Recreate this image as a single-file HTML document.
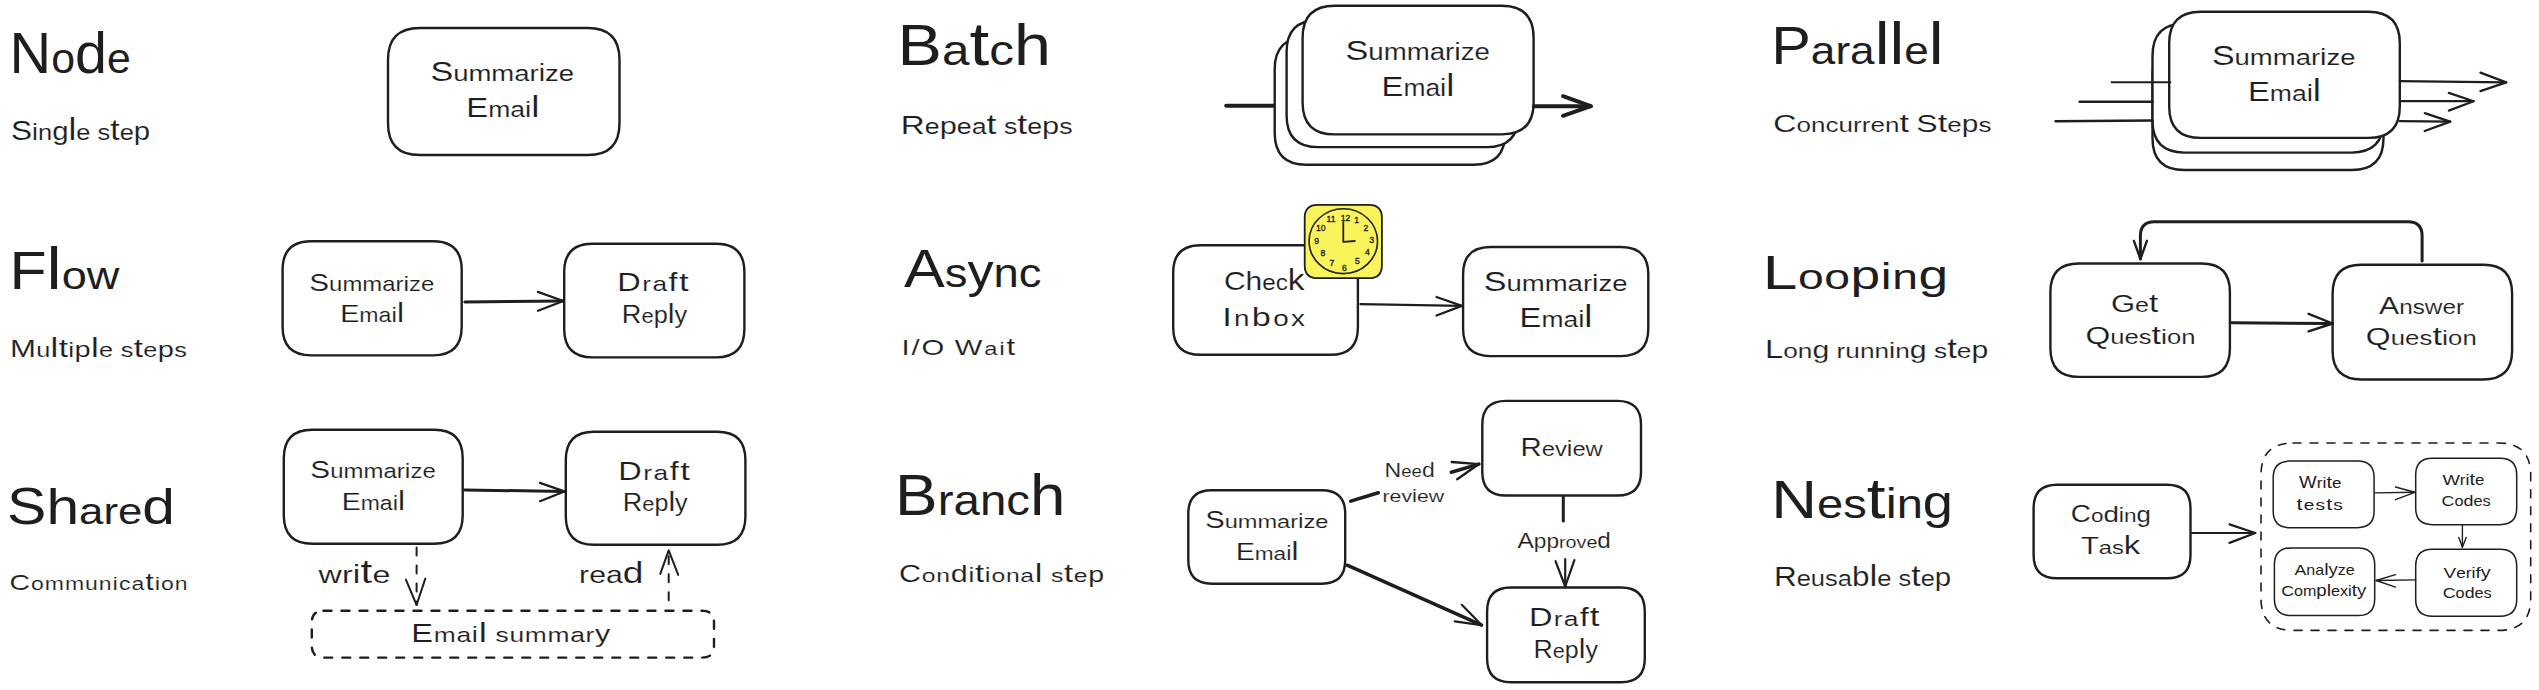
<!DOCTYPE html>
<html><head><meta charset="utf-8"><title>Workflow patterns</title>
<style>
html,body{margin:0;padding:0;background:#fff;}
body{width:2539px;height:690px;overflow:hidden;}
svg{display:block;}
text{font-family:"Liberation Sans",sans-serif;fill:#1e1e1e;}
</style></head><body>
<svg width="2539" height="690" viewBox="0 0 2539 690" stroke-linejoin="round" stroke-linecap="round">
<rect width="2539" height="690" fill="#fff"/>
<text transform="translate(9.6 73.0) scale(1.017 1)" textLength="119.2" lengthAdjust="spacing"><tspan font-size="56.7">N</tspan><tspan font-size="42.1">o</tspan><tspan font-size="56.5">d</tspan><tspan font-size="42.1">e</tspan></text>
<text transform="translate(11.1 139.6) scale(1.142 1)" textLength="121.8" lengthAdjust="spacing" stroke="#fff" stroke-width="0.13" stroke-linejoin="round"><tspan font-size="27.6">S</tspan><tspan font-size="23.4">i</tspan><tspan font-size="22.3">n</tspan><tspan font-size="25.7">g</tspan><tspan font-size="30.9">l</tspan><tspan font-size="22.3">e s</tspan><tspan font-size="29.5">t</tspan><tspan font-size="22.3">e</tspan><tspan font-size="25.7">p</tspan></text>
<path d="M419.8 28.0L587.8 28.0Q619.5 28.0 619.5 59.8L619.5 123.2Q619.5 155.0 587.8 155.0L419.8 155.0Q388.0 155.0 388.0 123.2L388.0 59.8Q388.0 28.0 419.8 28.0Z" fill="#fff" stroke="#1e1e1e" stroke-width="2.4"/>
<text transform="translate(430.5 80.9) scale(1.213 1)" textLength="118.4" lengthAdjust="spacing" stroke="#fff" stroke-width="0.12" stroke-linejoin="round"><tspan font-size="28.1">S</tspan><tspan font-size="22.7">ummar</tspan><tspan font-size="23.8">i</tspan><tspan font-size="22.7">ze</tspan></text>
<text transform="translate(466.3 116.9) scale(1.216 1)" textLength="60.2" lengthAdjust="spacing" stroke="#fff" stroke-width="0.12" stroke-linejoin="round"><tspan font-size="27.0">E</tspan><tspan font-size="21.8">ma</tspan><tspan font-size="22.9">i</tspan><tspan font-size="30.3">l</tspan></text>
<text transform="translate(9.4 289.0) scale(1.149 1)" textLength="95.7" lengthAdjust="spacing"><tspan font-size="52.9">F</tspan><tspan font-size="59.2">l</tspan><tspan font-size="39.3">ow</tspan></text>
<text transform="translate(9.9 357.0) scale(1.300 1)" textLength="136.1" lengthAdjust="spacing" stroke="#fff" stroke-width="0.12" stroke-linejoin="round"><tspan font-size="24.0">M</tspan><tspan font-size="19.4">u</tspan><tspan font-size="26.9">l</tspan><tspan font-size="25.6">t</tspan><tspan font-size="20.3">i</tspan><tspan font-size="22.3">p</tspan><tspan font-size="26.9">l</tspan><tspan font-size="19.4">e s</tspan><tspan font-size="25.6">t</tspan><tspan font-size="19.4">e</tspan><tspan font-size="22.3">p</tspan><tspan font-size="19.4">s</tspan></text>
<path d="M311.2 241.2L433.1 241.2Q461.7 241.2 461.7 269.8L461.7 326.8Q461.7 355.4 433.1 355.4L311.2 355.4Q282.6 355.4 282.6 326.8L282.6 269.8Q282.6 241.2 311.2 241.2Z" fill="#fff" stroke="#1e1e1e" stroke-width="2.4"/>
<text transform="translate(309.3 290.5) scale(1.206 1)" textLength="103.7" lengthAdjust="spacing" stroke="#fff" stroke-width="0.12" stroke-linejoin="round"><tspan font-size="24.6">S</tspan><tspan font-size="19.8">ummar</tspan><tspan font-size="20.8">i</tspan><tspan font-size="19.8">ze</tspan></text>
<text transform="translate(340.2 322.3) scale(1.167 1)" textLength="54.7" lengthAdjust="spacing" stroke="#fff" stroke-width="0.13" stroke-linejoin="round"><tspan font-size="24.6">E</tspan><tspan font-size="19.8">ma</tspan><tspan font-size="20.8">i</tspan><tspan font-size="27.5">l</tspan></text>
<path d="M592.6 243.8L716.0 243.8Q744.4 243.8 744.4 272.2L744.4 329.0Q744.4 357.4 716.0 357.4L592.6 357.4Q564.2 357.4 564.2 329.0L564.2 272.2Q564.2 243.8 592.6 243.8Z" fill="#fff" stroke="#1e1e1e" stroke-width="2.4"/>
<text transform="translate(617.3 291.3) scale(1.300 1)" textLength="54.9" lengthAdjust="spacing" stroke="#fff" stroke-width="0.12" stroke-linejoin="round"><tspan font-size="25.0">D</tspan><tspan font-size="20.2">ra</tspan><tspan font-size="24.9">f</tspan><tspan font-size="26.7">t</tspan></text>
<text transform="translate(621.8 323.3) scale(1.088 1)" textLength="60.0" lengthAdjust="spacing" stroke="#fff" stroke-width="0.14" stroke-linejoin="round"><tspan font-size="25.0">R</tspan><tspan font-size="20.2">e</tspan><tspan font-size="23.2">p</tspan><tspan font-size="28.0">l</tspan><tspan font-size="23.2">y</tspan></text>
<path d="M464.8 302.0L563.4 301.0" fill="none" stroke="#1e1e1e" stroke-width="3.0"/>
<path d="M537.8 291.9L563.4 301.0L538.0 310.8" fill="none" stroke="#1e1e1e" stroke-width="2.2"/>
<text transform="translate(7.1 523.7) scale(1.159 1)" textLength="144.9" lengthAdjust="spacing"><tspan font-size="50.9">S</tspan><tspan font-size="50.7">h</tspan><tspan font-size="37.8">are</tspan><tspan font-size="50.7">d</tspan></text>
<text transform="translate(9.5 589.6) scale(1.300 1)" textLength="137.0" lengthAdjust="spacing" stroke="#fff" stroke-width="0.12" stroke-linejoin="round"><tspan font-size="21.9">C</tspan><tspan font-size="17.7">ommun</tspan><tspan font-size="18.6">i</tspan><tspan font-size="17.7">ca</tspan><tspan font-size="23.4">t</tspan><tspan font-size="18.6">i</tspan><tspan font-size="17.7">on</tspan></text>
<path d="M312.3 429.7L434.2 429.7Q462.7 429.7 462.7 458.2L462.7 515.3Q462.7 543.8 434.2 543.8L312.3 543.8Q283.8 543.8 283.8 515.3L283.8 458.2Q283.8 429.7 312.3 429.7Z" fill="#fff" stroke="#1e1e1e" stroke-width="2.4"/>
<text transform="translate(310.3 478.4) scale(1.210 1)" textLength="103.7" lengthAdjust="spacing" stroke="#fff" stroke-width="0.12" stroke-linejoin="round"><tspan font-size="24.6">S</tspan><tspan font-size="19.8">ummar</tspan><tspan font-size="20.8">i</tspan><tspan font-size="19.8">ze</tspan></text>
<text transform="translate(341.7 509.7) scale(1.159 1)" textLength="54.7" lengthAdjust="spacing" stroke="#fff" stroke-width="0.13" stroke-linejoin="round"><tspan font-size="24.6">E</tspan><tspan font-size="19.8">ma</tspan><tspan font-size="20.8">i</tspan><tspan font-size="27.5">l</tspan></text>
<path d="M594.0 431.8L717.1 431.8Q745.4 431.8 745.4 460.1L745.4 516.5Q745.4 544.8 717.1 544.8L594.0 544.8Q565.8 544.8 565.8 516.5L565.8 460.1Q565.8 431.8 594.0 431.8Z" fill="#fff" stroke="#1e1e1e" stroke-width="2.4"/>
<text transform="translate(618.3 479.9) scale(1.300 1)" textLength="55.0" lengthAdjust="spacing" stroke="#fff" stroke-width="0.12" stroke-linejoin="round"><tspan font-size="25.0">D</tspan><tspan font-size="20.2">ra</tspan><tspan font-size="24.9">f</tspan><tspan font-size="26.7">t</tspan></text>
<text transform="translate(622.8 510.9) scale(1.081 1)" textLength="60.0" lengthAdjust="spacing" stroke="#fff" stroke-width="0.14" stroke-linejoin="round"><tspan font-size="25.0">R</tspan><tspan font-size="20.2">e</tspan><tspan font-size="23.2">p</tspan><tspan font-size="28.0">l</tspan><tspan font-size="23.2">y</tspan></text>
<path d="M464.8 490.0L564.4 491.4" fill="none" stroke="#1e1e1e" stroke-width="3.0"/>
<path d="M539.9 482.9L564.4 491.4L540.0 501.2" fill="none" stroke="#1e1e1e" stroke-width="2.2"/>
<path d="M323.5 610.8L702.3 610.8Q714.0 610.8 714.0 622.5L714.0 645.9Q714.0 657.6 702.3 657.6L323.5 657.6Q311.8 657.6 311.8 645.9L311.8 622.5Q311.8 610.8 323.5 610.8Z" fill="none" stroke="#1e1e1e" stroke-width="2.4" stroke-dasharray="8 10" stroke-linecap="round"/>
<text transform="translate(411.3 642.1) scale(1.300 1)" textLength="153.1" lengthAdjust="spacing" stroke="#fff" stroke-width="0.12" stroke-linejoin="round"><tspan font-size="25.1">E</tspan><tspan font-size="20.3">ma</tspan><tspan font-size="21.3">i</tspan><tspan font-size="28.2">l</tspan><tspan font-size="20.3"> summar</tspan><tspan font-size="23.4">y</tspan></text>
<text transform="translate(318.6 583.3) scale(1.300 1)" textLength="55.2" lengthAdjust="spacing" stroke="#fff" stroke-width="0.12" stroke-linejoin="round"><tspan font-size="24.7">wr</tspan><tspan font-size="25.9">i</tspan><tspan font-size="32.6">t</tspan><tspan font-size="24.7">e</tspan></text>
<text transform="translate(579.1 583.0) scale(1.222 1)" textLength="52.6" lengthAdjust="spacing" stroke="#fff" stroke-width="0.12" stroke-linejoin="round"><tspan font-size="24.7">rea</tspan><tspan font-size="30.4">d</tspan></text>
<g stroke-linecap="round">
<path d="M416.6 547.5L416.6 605.0" fill="none" stroke="#1e1e1e" stroke-width="2" stroke-dasharray="8 10"/>
<path d="M405.9 579.6L416.6 605.0L425.3 578.6" fill="none" stroke="#1e1e1e" stroke-width="2"/>
<path d="M668.7 600.3L668.7 550.4" fill="none" stroke="#1e1e1e" stroke-width="2" stroke-dasharray="8 10"/>
<path d="M660.3 573.9L668.7 550.4L678.2 574.9" fill="none" stroke="#1e1e1e" stroke-width="2"/>
</g>
<text transform="translate(897.5 65.2) scale(1.169 1)" textLength="131.2" lengthAdjust="spacing"><tspan font-size="57.0">B</tspan><tspan font-size="42.3">a</tspan><tspan font-size="60.8">t</tspan><tspan font-size="42.3">c</tspan><tspan font-size="56.8">h</tspan></text>
<text transform="translate(900.8 134.3) scale(1.248 1)" textLength="137.7" lengthAdjust="spacing" stroke="#fff" stroke-width="0.12" stroke-linejoin="round"><tspan font-size="26.6">R</tspan><tspan font-size="21.5">e</tspan><tspan font-size="24.7">p</tspan><tspan font-size="21.5">ea</tspan><tspan font-size="28.4">t</tspan><tspan font-size="21.5"> s</tspan><tspan font-size="28.4">t</tspan><tspan font-size="21.5">e</tspan><tspan font-size="24.7">p</tspan><tspan font-size="21.5">s</tspan></text>
<path d="M1226.2 105.7L1276.0 105.7" fill="none" stroke="#1e1e1e" stroke-width="4"/>
<path d="M1306.5 37.4L1473.4 37.4Q1505.2 37.4 1505.2 69.2L1505.2 132.9Q1505.2 164.7 1473.4 164.7L1306.5 164.7Q1274.7 164.7 1274.7 132.9L1274.7 69.2Q1274.7 37.4 1306.5 37.4Z" fill="#fff" stroke="#1e1e1e" stroke-width="2.4"/>
<path d="M1318.3 20.3L1486.6 20.3Q1518.3 20.3 1518.3 52.0L1518.3 115.4Q1518.3 147.1 1486.6 147.1L1318.3 147.1Q1286.6 147.1 1286.6 115.4L1286.6 52.0Q1286.6 20.3 1318.3 20.3Z" fill="#fff" stroke="#1e1e1e" stroke-width="2.4"/>
<path d="M1334.6 5.7L1501.6 5.7Q1533.6 5.7 1533.6 37.7L1533.6 102.4Q1533.6 134.4 1501.6 134.4L1334.6 134.4Q1302.6 134.4 1302.6 102.4L1302.6 37.7Q1302.6 5.7 1334.6 5.7Z" fill="#fff" stroke="#1e1e1e" stroke-width="2.4"/>
<text transform="translate(1345.5 60.0) scale(1.201 1)" textLength="120.3" lengthAdjust="spacing" stroke="#fff" stroke-width="0.12" stroke-linejoin="round"><tspan font-size="28.5">S</tspan><tspan font-size="23.0">ummar</tspan><tspan font-size="24.2">i</tspan><tspan font-size="23.0">ze</tspan></text>
<text transform="translate(1381.6 96.0) scale(1.149 1)" textLength="63.4" lengthAdjust="spacing" stroke="#fff" stroke-width="0.13" stroke-linejoin="round"><tspan font-size="28.5">E</tspan><tspan font-size="23.0">ma</tspan><tspan font-size="24.2">i</tspan><tspan font-size="31.9">l</tspan></text>
<path d="M1534.0 106.2L1590.8 106.2" fill="none" stroke="#1e1e1e" stroke-width="4"/>
<path d="M1563.0 96.2L1590.8 106.2L1563.0 115.8" fill="none" stroke="#1e1e1e" stroke-width="4"/>
<text transform="translate(904.1 287.2) scale(1.121 1)" textLength="122.6" lengthAdjust="spacing"><tspan font-size="54.5">A</tspan><tspan font-size="40.5">s</tspan><tspan font-size="46.6">y</tspan><tspan font-size="40.5">nc</tspan></text>
<text transform="translate(901.6 354.9) scale(1.300 1)" textLength="87.4" lengthAdjust="spacing" stroke="#fff" stroke-width="0.12" stroke-linejoin="round"><tspan font-size="22.5">I/O</tspan><tspan font-size="18.2"> </tspan><tspan font-size="22.5">W</tspan><tspan font-size="18.2">a</tspan><tspan font-size="19.1">i</tspan><tspan font-size="24.0">t</tspan></text>
<path d="M1200.6 245.2L1330.5 245.2Q1357.9 245.2 1357.9 272.6L1357.9 327.4Q1357.9 354.8 1330.5 354.8L1200.6 354.8Q1173.2 354.8 1173.2 327.4L1173.2 272.6Q1173.2 245.2 1200.6 245.2Z" fill="#fff" stroke="#1e1e1e" stroke-width="2.4"/>
<text transform="translate(1223.9 290.1) scale(1.134 1)" textLength="71.1" lengthAdjust="spacing" stroke="#fff" stroke-width="0.13" stroke-linejoin="round"><tspan font-size="26.5">C</tspan><tspan font-size="26.4">h</tspan><tspan font-size="21.4">ec</tspan><tspan font-size="29.6">k</tspan></text>
<text transform="translate(1222.2 326.4) scale(1.300 1)" textLength="63.6" lengthAdjust="spacing" stroke="#fff" stroke-width="0.12" stroke-linejoin="round"><tspan font-size="26.5">I</tspan><tspan font-size="21.4">n</tspan><tspan font-size="26.4">b</tspan><tspan font-size="21.4">ox</tspan></text>
<path d="M1490.4 247.0L1621.0 247.0Q1648.3 247.0 1648.3 274.3L1648.3 328.8Q1648.3 356.1 1621.0 356.1L1490.4 356.1Q1463.1 356.1 1463.1 328.8L1463.1 274.3Q1463.1 247.0 1490.4 247.0Z" fill="#fff" stroke="#1e1e1e" stroke-width="2.4"/>
<text transform="translate(1483.7 291.4) scale(1.234 1)" textLength="116.6" lengthAdjust="spacing" stroke="#fff" stroke-width="0.12" stroke-linejoin="round"><tspan font-size="27.6">S</tspan><tspan font-size="22.3">ummar</tspan><tspan font-size="23.4">i</tspan><tspan font-size="22.3">ze</tspan></text>
<text transform="translate(1519.6 326.9) scale(1.185 1)" textLength="61.5" lengthAdjust="spacing" stroke="#fff" stroke-width="0.13" stroke-linejoin="round"><tspan font-size="27.6">E</tspan><tspan font-size="22.3">ma</tspan><tspan font-size="23.4">i</tspan><tspan font-size="30.9">l</tspan></text>
<path d="M1360.4 304.1L1461.9 305.9" fill="none" stroke="#1e1e1e" stroke-width="2.2"/>
<path d="M1436.5 297.0L1461.9 305.9L1436.5 315.5" fill="none" stroke="#1e1e1e" stroke-width="2.2"/>
<path d="M1317.7 204.9L1368.9 204.9Q1381.9 204.9 1381.9 217.9L1381.9 265.2Q1381.9 278.2 1368.9 278.2L1317.7 278.2Q1304.7 278.2 1304.7 265.2L1304.7 217.9Q1304.7 204.9 1317.7 204.9Z" fill="#faf45c" stroke="#1e1e1e" stroke-width="1.8"/>
<ellipse cx="1343.3" cy="241.2" rx="34.2" ry="32.4" fill="none" stroke="#1e1e1e" stroke-width="1.6"/>
<path d="M1343.3 222.2L1343.3 241.9L1354.8 241.0" fill="none" stroke="#1e1e1e" stroke-width="1.8"/>
<text x="1345.6" y="221.0" font-size="8.6" text-anchor="middle" stroke="#1e1e1e" stroke-width="0.35">12</text>
<text x="1356.6" y="222.8" font-size="8.6" text-anchor="middle" stroke="#1e1e1e" stroke-width="0.35">1</text>
<text x="1365.9" y="231.4" font-size="8.6" text-anchor="middle" stroke="#1e1e1e" stroke-width="0.35">2</text>
<text x="1371.7" y="243.1" font-size="8.6" text-anchor="middle" stroke="#1e1e1e" stroke-width="0.35">3</text>
<text x="1367.5" y="254.6" font-size="8.6" text-anchor="middle" stroke="#1e1e1e" stroke-width="0.35">4</text>
<text x="1357.3" y="264.1" font-size="8.6" text-anchor="middle" stroke="#1e1e1e" stroke-width="0.35">5</text>
<text x="1344.3" y="270.6" font-size="8.6" text-anchor="middle" stroke="#1e1e1e" stroke-width="0.35">6</text>
<text x="1331.8" y="266.1" font-size="8.6" text-anchor="middle" stroke="#1e1e1e" stroke-width="0.35">7</text>
<text x="1322.8" y="255.8" font-size="8.6" text-anchor="middle" stroke="#1e1e1e" stroke-width="0.35">8</text>
<text x="1316.6" y="243.5" font-size="8.6" text-anchor="middle" stroke="#1e1e1e" stroke-width="0.35">9</text>
<text x="1320.7" y="230.8" font-size="8.6" text-anchor="middle" stroke="#1e1e1e" stroke-width="0.35">10</text>
<text x="1331.0" y="222.1" font-size="8.6" text-anchor="middle" stroke="#1e1e1e" stroke-width="0.35">11</text>
<text transform="translate(895.1 514.5) scale(1.113 1)" textLength="153.1" lengthAdjust="spacing"><tspan font-size="57.4">B</tspan><tspan font-size="42.6">ranc</tspan><tspan font-size="57.2">h</tspan></text>
<text transform="translate(898.9 582.2) scale(1.300 1)" textLength="157.9" lengthAdjust="spacing" stroke="#fff" stroke-width="0.12" stroke-linejoin="round"><tspan font-size="23.5">C</tspan><tspan font-size="19.0">on</tspan><tspan font-size="23.5">d</tspan><tspan font-size="20.0">i</tspan><tspan font-size="25.1">t</tspan><tspan font-size="20.0">i</tspan><tspan font-size="19.0">ona</tspan><tspan font-size="26.4">l</tspan><tspan font-size="19.0"> s</tspan><tspan font-size="25.1">t</tspan><tspan font-size="19.0">e</tspan><tspan font-size="21.9">p</tspan></text>
<path d="M1211.7 490.2L1321.8 490.2Q1345.2 490.2 1345.2 513.6L1345.2 560.3Q1345.2 583.7 1321.8 583.7L1211.7 583.7Q1188.3 583.7 1188.3 560.3L1188.3 513.6Q1188.3 490.2 1211.7 490.2Z" fill="#fff" stroke="#1e1e1e" stroke-width="2.4"/>
<text transform="translate(1205.2 527.8) scale(1.255 1)" textLength="98.2" lengthAdjust="spacing" stroke="#fff" stroke-width="0.12" stroke-linejoin="round"><tspan font-size="23.3">S</tspan><tspan font-size="18.8">ummar</tspan><tspan font-size="19.7">i</tspan><tspan font-size="18.8">ze</tspan></text>
<text transform="translate(1236.0 559.8) scale(1.206 1)" textLength="51.8" lengthAdjust="spacing" stroke="#fff" stroke-width="0.12" stroke-linejoin="round"><tspan font-size="23.3">E</tspan><tspan font-size="18.8">ma</tspan><tspan font-size="19.7">i</tspan><tspan font-size="26.0">l</tspan></text>
<path d="M1506.0 400.9L1617.3 400.9Q1641.0 400.9 1641.0 424.5L1641.0 471.9Q1641.0 495.5 1617.3 495.5L1506.0 495.5Q1482.3 495.5 1482.3 471.9L1482.3 424.5Q1482.3 400.9 1506.0 400.9Z" fill="#fff" stroke="#1e1e1e" stroke-width="2.4"/>
<text transform="translate(1520.6 456.1) scale(1.143 1)" textLength="71.9" lengthAdjust="spacing" stroke="#fff" stroke-width="0.13" stroke-linejoin="round"><tspan font-size="25.7">R</tspan><tspan font-size="20.8">ev</tspan><tspan font-size="21.8">i</tspan><tspan font-size="20.8">ew</tspan></text>
<path d="M1510.8 587.5L1621.1 587.5Q1644.8 587.5 1644.8 611.2L1644.8 658.6Q1644.8 682.3 1621.1 682.3L1510.8 682.3Q1487.1 682.3 1487.1 658.6L1487.1 611.2Q1487.1 587.5 1510.8 587.5Z" fill="#fff" stroke="#1e1e1e" stroke-width="2.4"/>
<text transform="translate(1529.1 626.1) scale(1.300 1)" textLength="54.2" lengthAdjust="spacing" stroke="#fff" stroke-width="0.12" stroke-linejoin="round"><tspan font-size="25.1">D</tspan><tspan font-size="20.3">ra</tspan><tspan font-size="25.1">f</tspan><tspan font-size="26.8">t</tspan></text>
<text transform="translate(1533.6 657.5) scale(1.063 1)" textLength="60.4" lengthAdjust="spacing" stroke="#fff" stroke-width="0.14" stroke-linejoin="round"><tspan font-size="25.1">R</tspan><tspan font-size="20.3">e</tspan><tspan font-size="23.4">p</tspan><tspan font-size="28.2">l</tspan><tspan font-size="23.4">y</tspan></text>
<text transform="translate(1384.6 476.5) scale(1.094 1)" textLength="45.8" lengthAdjust="spacing" stroke="#fff" stroke-width="0.14" stroke-linejoin="round"><tspan font-size="21.1">N</tspan><tspan font-size="17.0">ee</tspan><tspan font-size="21.0">d</tspan></text>
<text transform="translate(1382.5 502.2) scale(1.247 1)" textLength="49.4" lengthAdjust="spacing" stroke="#fff" stroke-width="0.12" stroke-linejoin="round"><tspan font-size="17.0">rev</tspan><tspan font-size="17.9">i</tspan><tspan font-size="17.0">ew</tspan></text>
<text transform="translate(1517.6 547.7) scale(1.140 1)" textLength="81.8" lengthAdjust="spacing" stroke="#fff" stroke-width="0.13" stroke-linejoin="round"><tspan font-size="21.4">A</tspan><tspan font-size="19.9">pp</tspan><tspan font-size="17.3">rove</tspan><tspan font-size="21.3">d</tspan></text>
<path d="M1350.7 501.1L1378.3 492.8" fill="none" stroke="#1e1e1e" stroke-width="3.5"/>
<path d="M1451.3 472.2L1478.9 464.1" fill="none" stroke="#1e1e1e" stroke-width="3.5"/>
<path d="M1451.7 462.0L1478.9 464.1L1457.2 479.3" fill="none" stroke="#1e1e1e" stroke-width="2.4"/>
<path d="M1563.3 496.8L1563.3 520.9" fill="none" stroke="#1e1e1e" stroke-width="3"/>
<path d="M1565.2 559.0L1565.2 586.5" fill="none" stroke="#1e1e1e" stroke-width="2.2"/>
<path d="M1555.5 561.2L1565.2 586.5L1574.4 560.1" fill="none" stroke="#1e1e1e" stroke-width="2.2"/>
<path d="M1347.1 565.2L1481.6 625.1" fill="none" stroke="#1e1e1e" stroke-width="3.5"/>
<path d="M1461.8 604.8L1481.6 625.1L1454.7 621.4" fill="none" stroke="#1e1e1e" stroke-width="2.2"/>
<text transform="translate(1771.2 63.9) scale(1.120 1)" textLength="153.9" lengthAdjust="spacing"><tspan font-size="53.1">P</tspan><tspan font-size="39.4">ara</tspan><tspan font-size="59.4">ll</tspan><tspan font-size="39.4">e</tspan><tspan font-size="59.4">l</tspan></text>
<text transform="translate(1773.2 131.8) scale(1.300 1)" textLength="167.9" lengthAdjust="spacing" stroke="#fff" stroke-width="0.12" stroke-linejoin="round"><tspan font-size="24.7">C</tspan><tspan font-size="20.0">oncurren</tspan><tspan font-size="26.4">t</tspan><tspan font-size="20.0"> </tspan><tspan font-size="24.7">S</tspan><tspan font-size="26.4">t</tspan><tspan font-size="20.0">e</tspan><tspan font-size="23.0">p</tspan><tspan font-size="20.0">s</tspan></text>
<path d="M2184.2 43.0L2351.8 43.0Q2383.5 43.0 2383.5 74.8L2383.5 138.2Q2383.5 170.0 2351.8 170.0L2184.2 170.0Q2152.5 170.0 2152.5 138.2L2152.5 74.8Q2152.5 43.0 2184.2 43.0Z" fill="#fff" stroke="#1e1e1e" stroke-width="2.4"/>
<path d="M2184.5 23.6L2351.5 23.6Q2383.5 23.6 2383.5 55.6L2383.5 120.6Q2383.5 152.6 2351.5 152.6L2184.5 152.6Q2152.5 152.6 2152.5 120.6L2152.5 55.6Q2152.5 23.6 2184.5 23.6Z" fill="#fff" stroke="#1e1e1e" stroke-width="2.4"/>
<path d="M2079.6 101.7L2152.7 101.7" fill="none" stroke="#1e1e1e" stroke-width="2.4"/>
<path d="M2055.6 121.3L2152.7 120.5" fill="none" stroke="#1e1e1e" stroke-width="2.6"/>
<path d="M2200.8 11.7L2368.2 11.7Q2399.8 11.7 2399.8 43.2L2399.8 106.4Q2399.8 137.9 2368.2 137.9L2200.8 137.9Q2169.2 137.9 2169.2 106.4L2169.2 43.2Q2169.2 11.7 2200.8 11.7Z" fill="#fff" stroke="#1e1e1e" stroke-width="2.4"/>
<path d="M2111.7 82.2L2170.4 82.2" fill="none" stroke="#1e1e1e" stroke-width="2"/>
<text transform="translate(2211.9 65.2) scale(1.245 1)" textLength="115.4" lengthAdjust="spacing" stroke="#fff" stroke-width="0.12" stroke-linejoin="round"><tspan font-size="27.3">S</tspan><tspan font-size="22.1">ummar</tspan><tspan font-size="23.2">i</tspan><tspan font-size="22.1">ze</tspan></text>
<text transform="translate(2248.0 101.2) scale(1.201 1)" textLength="60.8" lengthAdjust="spacing" stroke="#fff" stroke-width="0.12" stroke-linejoin="round"><tspan font-size="27.3">E</tspan><tspan font-size="22.1">ma</tspan><tspan font-size="23.2">i</tspan><tspan font-size="30.6">l</tspan></text>
<path d="M2399.8 81.1L2506.2 82.4" fill="none" stroke="#1e1e1e" stroke-width="2.2"/>
<path d="M2480.4 72.6L2506.2 82.4L2480.4 91.1" fill="none" stroke="#1e1e1e" stroke-width="2.2"/>
<path d="M2400.8 101.2L2473.6 101.2" fill="none" stroke="#1e1e1e" stroke-width="2.2"/>
<path d="M2448.8 92.9L2473.6 101.2L2448.8 110.6" fill="none" stroke="#1e1e1e" stroke-width="2.2"/>
<path d="M2399.8 121.2L2450.3 121.6" fill="none" stroke="#1e1e1e" stroke-width="2.2"/>
<path d="M2424.7 113.1L2450.3 121.6L2424.7 131.0" fill="none" stroke="#1e1e1e" stroke-width="2.2"/>
<text transform="translate(1762.7 289.1) scale(1.300 1)" textLength="142.6" lengthAdjust="spacing"><tspan font-size="48.0">L</tspan><tspan font-size="35.6">oo</tspan><tspan font-size="41.0">p</tspan><tspan font-size="37.4">i</tspan><tspan font-size="35.6">n</tspan><tspan font-size="41.0">g</tspan></text>
<text transform="translate(1765.1 358.3) scale(1.286 1)" textLength="173.5" lengthAdjust="spacing" stroke="#fff" stroke-width="0.12" stroke-linejoin="round"><tspan font-size="25.3">L</tspan><tspan font-size="20.4">on</tspan><tspan font-size="23.5">g</tspan><tspan font-size="20.4"> runn</tspan><tspan font-size="21.5">i</tspan><tspan font-size="20.4">n</tspan><tspan font-size="23.5">g</tspan><tspan font-size="20.4"> s</tspan><tspan font-size="27.0">t</tspan><tspan font-size="20.4">e</tspan><tspan font-size="23.5">p</tspan></text>
<path d="M2078.8 263.5L2201.6 263.5Q2229.9 263.5 2229.9 291.9L2229.9 348.5Q2229.9 376.9 2201.6 376.9L2078.8 376.9Q2050.4 376.9 2050.4 348.5L2050.4 291.9Q2050.4 263.5 2078.8 263.5Z" fill="#fff" stroke="#1e1e1e" stroke-width="2.4"/>
<text transform="translate(2111.0 311.7) scale(1.261 1)" textLength="37.4" lengthAdjust="spacing" stroke="#fff" stroke-width="0.12" stroke-linejoin="round"><tspan font-size="24.6">G</tspan><tspan font-size="19.8">e</tspan><tspan font-size="26.2">t</tspan></text>
<text transform="translate(2085.4 343.5) scale(1.295 1)" textLength="85.1" lengthAdjust="spacing" stroke="#fff" stroke-width="0.12" stroke-linejoin="round"><tspan font-size="24.6">Q</tspan><tspan font-size="19.8">ues</tspan><tspan font-size="26.2">t</tspan><tspan font-size="20.8">i</tspan><tspan font-size="19.8">on</tspan></text>
<path d="M2361.3 264.8L2483.4 264.8Q2512.1 264.8 2512.1 293.5L2512.1 350.8Q2512.1 379.5 2483.4 379.5L2361.3 379.5Q2332.6 379.5 2332.6 350.8L2332.6 293.5Q2332.6 264.8 2361.3 264.8Z" fill="#fff" stroke="#1e1e1e" stroke-width="2.4"/>
<text transform="translate(2379.0 313.8) scale(1.228 1)" textLength="69.3" lengthAdjust="spacing" stroke="#fff" stroke-width="0.12" stroke-linejoin="round"><tspan font-size="24.6">A</tspan><tspan font-size="19.8">nswer</tspan></text>
<text transform="translate(2365.8 345.1) scale(1.300 1)" textLength="85.3" lengthAdjust="spacing" stroke="#fff" stroke-width="0.12" stroke-linejoin="round"><tspan font-size="24.6">Q</tspan><tspan font-size="19.8">ues</tspan><tspan font-size="26.2">t</tspan><tspan font-size="20.8">i</tspan><tspan font-size="19.8">on</tspan></text>
<path d="M2231.7 322.7L2332.6 323.5" fill="none" stroke="#1e1e1e" stroke-width="3"/>
<path d="M2308.6 313.8L2332.6 323.5L2308.6 331.3" fill="none" stroke="#1e1e1e" stroke-width="2.4"/>
<path d="M2422.1 260.9L2422.1 235.7Q2422.1 221.7 2408.1 221.7L2154.4 221.7Q2140.4 221.7 2140.4 235.7L2140.4 259" fill="none" stroke="#1e1e1e" stroke-width="3"/>
<path d="M2133.9 240.8L2140.4 259.0L2146.9 240.8" fill="none" stroke="#1e1e1e" stroke-width="2.4"/>
<text transform="translate(1771.3 517.6) scale(1.183 1)" textLength="153.6" lengthAdjust="spacing"><tspan font-size="53.6">N</tspan><tspan font-size="39.8">es</tspan><tspan font-size="57.2">t</tspan><tspan font-size="41.8">i</tspan><tspan font-size="39.8">n</tspan><tspan font-size="45.8">g</tspan></text>
<text transform="translate(1773.9 585.7) scale(1.161 1)" textLength="152.7" lengthAdjust="spacing" stroke="#fff" stroke-width="0.13" stroke-linejoin="round"><tspan font-size="27.2">R</tspan><tspan font-size="22.0">eusa</tspan><tspan font-size="27.1">b</tspan><tspan font-size="30.4">l</tspan><tspan font-size="22.0">e s</tspan><tspan font-size="29.0">t</tspan><tspan font-size="22.0">e</tspan><tspan font-size="25.3">p</tspan></text>
<path d="M2057.0 484.7L2167.1 484.7Q2190.5 484.7 2190.5 508.1L2190.5 554.9Q2190.5 578.3 2167.1 578.3L2057.0 578.3Q2033.6 578.3 2033.6 554.9L2033.6 508.1Q2033.6 484.7 2057.0 484.7Z" fill="#fff" stroke="#1e1e1e" stroke-width="2.4"/>
<text transform="translate(2070.8 522.4) scale(1.213 1)" textLength="66.1" lengthAdjust="spacing" stroke="#fff" stroke-width="0.12" stroke-linejoin="round"><tspan font-size="23.0">C</tspan><tspan font-size="18.6">o</tspan><tspan font-size="22.9">d</tspan><tspan font-size="19.5">i</tspan><tspan font-size="18.6">n</tspan><tspan font-size="21.3">g</tspan></text>
<text transform="translate(2080.9 553.7) scale(1.277 1)" textLength="46.5" lengthAdjust="spacing" stroke="#fff" stroke-width="0.12" stroke-linejoin="round"><tspan font-size="23.0">T</tspan><tspan font-size="18.6">as</tspan><tspan font-size="25.7">k</tspan></text>
<path d="M2191.3 533.0L2255.3 533.0" fill="none" stroke="#1e1e1e" stroke-width="2.2"/>
<path d="M2229.5 524.4L2255.3 533.0L2229.5 542.9" fill="none" stroke="#1e1e1e" stroke-width="2.2"/>
<path d="M2293.0 443.0L2498.7 443.0Q2530.7 443.0 2530.7 475.0L2530.7 598.4Q2530.7 630.4 2498.7 630.4L2293.0 630.4Q2261.0 630.4 2261.0 598.4L2261.0 475.0Q2261.0 443.0 2293.0 443.0Z" fill="none" stroke="#1e1e1e" stroke-width="1.6" stroke-dasharray="8 9" stroke-linecap="round"/>
<path d="M2289.8 461.1L2357.4 461.1Q2374.1 461.1 2374.1 477.8L2374.1 511.1Q2374.1 527.7 2357.4 527.7L2289.8 527.7Q2273.2 527.7 2273.2 511.1L2273.2 477.8Q2273.2 461.1 2289.8 461.1Z" fill="#fff" stroke="#1e1e1e" stroke-width="1.5"/>
<path d="M2432.3 458.2L2500.1 458.2Q2516.7 458.2 2516.7 474.8L2516.7 508.1Q2516.7 524.7 2500.1 524.7L2432.3 524.7Q2415.7 524.7 2415.7 508.1L2415.7 474.8Q2415.7 458.2 2432.3 458.2Z" fill="#fff" stroke="#1e1e1e" stroke-width="1.5"/>
<path d="M2291.3 547.9L2357.8 547.9Q2374.7 547.9 2374.7 564.8L2374.7 598.7Q2374.7 615.6 2357.8 615.6L2291.3 615.6Q2274.4 615.6 2274.4 598.7L2274.4 564.8Q2274.4 547.9 2291.3 547.9Z" fill="#fff" stroke="#1e1e1e" stroke-width="1.5"/>
<path d="M2432.4 549.3L2500.0 549.3Q2516.7 549.3 2516.7 566.0L2516.7 599.5Q2516.7 616.2 2500.0 616.2L2432.4 616.2Q2415.7 616.2 2415.7 599.5L2415.7 566.0Q2415.7 549.3 2432.4 549.3Z" fill="#fff" stroke="#1e1e1e" stroke-width="1.5"/>
<text transform="translate(2299.1 488.4) scale(1.191 1)" textLength="35.5" lengthAdjust="spacing"><tspan font-size="15.7">W</tspan><tspan font-size="14.3">r</tspan><tspan font-size="15.0">i</tspan><tspan font-size="16.7">t</tspan><tspan font-size="14.3">e</tspan></text>
<text transform="translate(2296.6 509.6) scale(1.300 1)" textLength="35.6" lengthAdjust="spacing"><tspan font-size="16.7">t</tspan><tspan font-size="14.7">es</tspan><tspan font-size="16.7">t</tspan><tspan font-size="14.7">s</tspan></text>
<text transform="translate(2442.4 484.9) scale(1.225 1)" textLength="34.2" lengthAdjust="spacing"><tspan font-size="15.1">W</tspan><tspan font-size="13.8">r</tspan><tspan font-size="14.5">i</tspan><tspan font-size="16.1">t</tspan><tspan font-size="13.8">e</tspan></text>
<text transform="translate(2441.6 506.2) scale(1.182 1)" textLength="41.5" lengthAdjust="spacing"><tspan font-size="15.1">C</tspan><tspan font-size="13.8">o</tspan><tspan font-size="15.1">d</tspan><tspan font-size="13.8">es</tspan></text>
<text transform="translate(2294.5 575.2) scale(1.155 1)" textLength="52.2" lengthAdjust="spacing"><tspan font-size="15.3">A</tspan><tspan font-size="13.9">na</tspan><tspan font-size="17.1">l</tspan><tspan font-size="16.0">y</tspan><tspan font-size="13.9">ze</tspan></text>
<text transform="translate(2281.2 596.3) scale(1.159 1)" textLength="73.5" lengthAdjust="spacing"><tspan font-size="15.3">C</tspan><tspan font-size="13.9">om</tspan><tspan font-size="16.0">p</tspan><tspan font-size="17.1">l</tspan><tspan font-size="13.9">ex</tspan><tspan font-size="14.6">i</tspan><tspan font-size="16.3">t</tspan><tspan font-size="16.0">y</tspan></text>
<text transform="translate(2443.5 578.2) scale(1.240 1)" textLength="38.0" lengthAdjust="spacing"><tspan font-size="15.3">V</tspan><tspan font-size="13.9">er</tspan><tspan font-size="14.6">i</tspan><tspan font-size="15.2">f</tspan><tspan font-size="16.0">y</tspan></text>
<text transform="translate(2442.7 597.8) scale(1.170 1)" textLength="41.9" lengthAdjust="spacing"><tspan font-size="15.3">C</tspan><tspan font-size="13.9">o</tspan><tspan font-size="15.2">d</tspan><tspan font-size="13.9">es</tspan></text>
<path d="M2374.7 492.9L2414.8 492.3" fill="none" stroke="#1e1e1e" stroke-width="1.4"/>
<path d="M2395.5 487.0L2414.8 492.3L2395.5 499.7" fill="none" stroke="#1e1e1e" stroke-width="1.4"/>
<path d="M2462.4 525.6L2462.4 547.3" fill="none" stroke="#1e1e1e" stroke-width="1.4"/>
<path d="M2458.8 537.5L2462.4 547.3L2466.2 537.5" fill="none" stroke="#1e1e1e" stroke-width="1.4"/>
<path d="M2415.7 579.9L2376.2 580.5" fill="none" stroke="#1e1e1e" stroke-width="1.4"/>
<path d="M2395.5 574.6L2376.2 580.5L2395.5 587.1" fill="none" stroke="#1e1e1e" stroke-width="1.4"/>
</svg>
</body></html>
